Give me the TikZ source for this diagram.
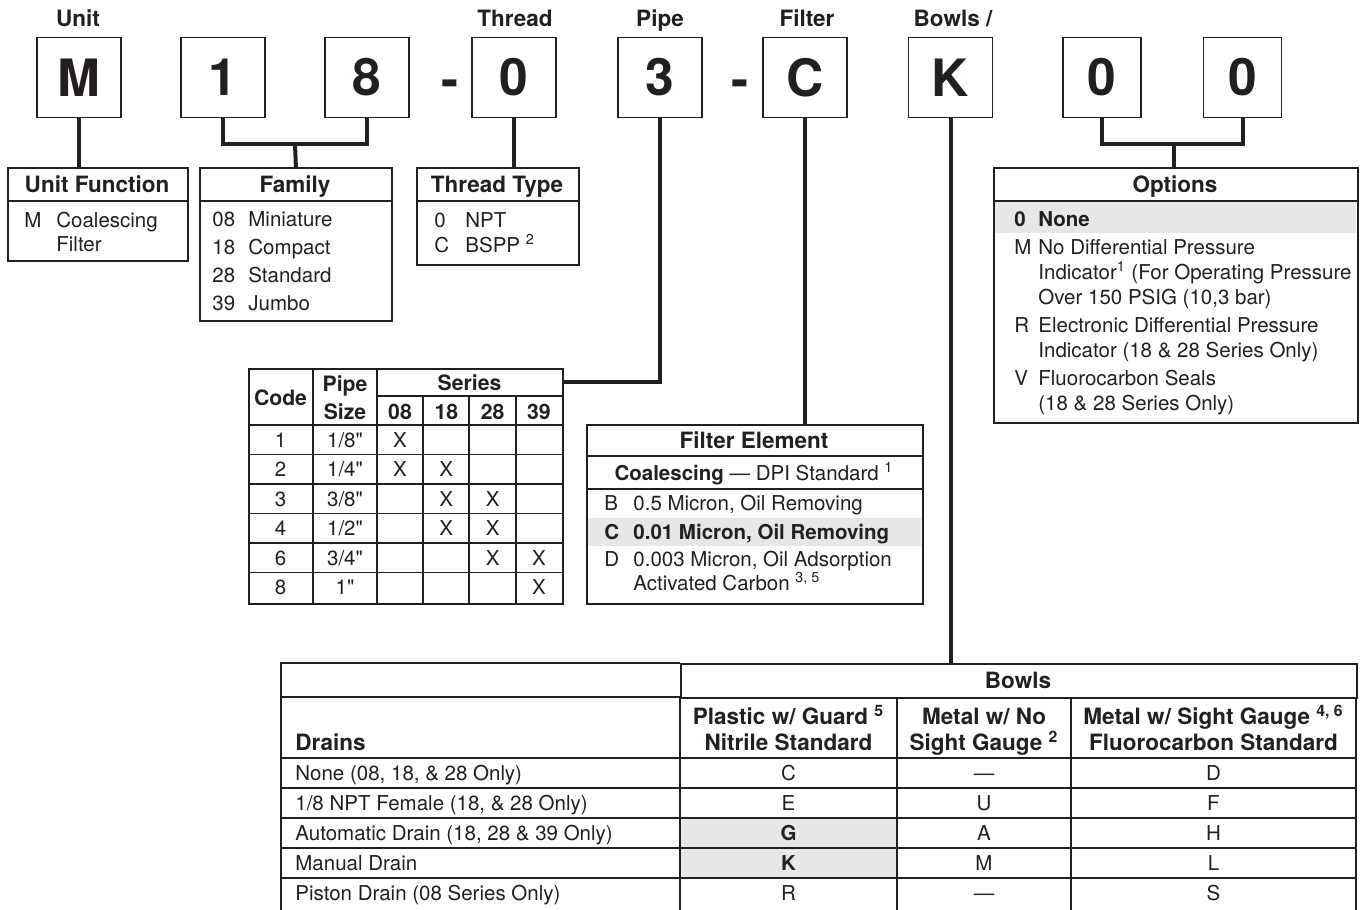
\documentclass[tikz,border=0pt]{standalone}
\usepackage{fontspec}
\setmainfont{TeX Gyre Heros}
\usetikzlibrary{positioning}

\definecolor{ink}{HTML}{231F20}
\definecolor{rowgrey}{HTML}{E6E7E8}

\newcommand{\bodytxt}{\fontsize{10.25}{12}\selectfont}
\newcommand{\headtxt}{\fontsize{11.25}{13}\selectfont\bfseries}
\newcommand{\tabtxt}{\fontsize{10.6}{12}\selectfont\bfseries}
\newcommand{\bigtxt}{\fontsize{25.75}{28}\selectfont\bfseries}

\tikzset{
  codebox/.style={draw, line width=0.85pt, minimum width=42pt, minimum height=40pt, inner sep=0pt, font=\bigtxt},
  infobox/.style={draw, line width=0.9pt, anchor=north west, inner sep=0pt},
  stem/.style={line width=2pt},
  gridline/.style={line width=0.75pt},
  frameline/.style={line width=0.9pt},
  lefttext/.style={anchor=base west, inner sep=0pt, font=\bodytxt},
  midtext/.style={anchor=base, inner sep=0pt, font=\bodytxt},
  headtext/.style={anchor=base, inner sep=0pt, font=\headtxt},
  tabhead/.style={anchor=base, inner sep=0pt, font=\tabtxt},
}

\begin{document}
\begin{tikzpicture}[x=0.5pt, y=-0.5pt, color=ink]
\useasboundingbox (0,0) rectangle (1361,910);


\node[headtext] (lunit) at (78,26) {Unit};
\node[headtext] (lthread) at (515,26) {Thread};
\node[headtext] (lpipe) at (660,26) {Pipe};
\node[headtext] (lfilter) at (807,26) {Filter};
\node[headtext] (lbowls) at (953,26) {Bowls /};

\node[codebox] (bm) at (79,77.5) {M};
\node[codebox] (b1) at (223,77.5) {1};
\node[codebox] (b8) at (367,77.5) {8};
\node[anchor=base, inner sep=0pt, font=\bigtxt] (dash1) at (450,97) {-};
\node[codebox] (bt) at (514,77.5) {0};
\node[codebox] (bp) at (660,77.5) {3};
\node[anchor=base, inner sep=0pt, font=\bigtxt] (dash2) at (740,97) {-};
\node[codebox] (bf) at (805,77.5) {C};
\node[codebox] (bk) at (950.5,77.5) {K};
\node[codebox, minimum width=39pt] (bo1) at (1102,77.5) {0};
\node[codebox, minimum width=39pt] (bo2) at (1242.5,77.5) {0};


\node[infobox, minimum width=90pt, minimum height=46.5pt] (unitfn) at (7,167) {};
\draw[gridline] (7,201) -- ++(180,0);
\node[headtext] (unitfnhd) at (97,192) {Unit Function};
\node[lefttext] (ufm) at (24,227) {M};
\node[lefttext] (ufco) at (56,227) {Coalescing};
\node[lefttext] (uffi) at (56,251) {Filter};

\node[infobox, minimum width=96pt, minimum height=76.5pt] (family) at (199,167) {};
\draw[gridline] (199,201) -- ++(192,0);
\node[headtext] (familyhd) at (295,192) {Family};
\foreach \code/\name [count=\i from 0] in {08/Miniature,18/Compact,28/Standard,39/Jumbo}{
  \node[lefttext] (famc\i) at (212,226.5+28*\i) {\code};
  \node[lefttext] (famn\i) at (248,226.5+28*\i) {\name};
}

\node[infobox, minimum width=81pt, minimum height=48.5pt] (thread) at (416,167) {};
\draw[gridline] (416,201) -- ++(162,0);
\node[headtext] (threadhd) at (497,192) {Thread Type};
\node[lefttext] (thc0) at (434,227) {0};
\node[lefttext] (thn0) at (465,227) {NPT};
\node[lefttext] (thc1) at (434,252) {C};
\node[lefttext] (thn1) at (465,252) {BSPP \textsuperscript{2}};

\fill[rowgrey] (994,202) rectangle (1356,233);
\node[infobox, minimum width=182pt, minimum height=127.5pt] (options) at (993,167) {};
\draw[gridline] (993,201) -- ++(364,0);
\node[headtext] (optionshd) at (1175,192) {Options};
\node[lefttext, font=\bodytxt\bfseries] (opc0) at (1014,226) {0};
\node[lefttext, font=\bodytxt\bfseries] (opn0) at (1038,226) {None};
\node[lefttext] (opc1) at (1014,254) {M};
\node[lefttext] (opn1a) at (1038,254) {No Differential Pressure};
\node[lefttext] (opn1b) at (1038,279) {Indicator\textsuperscript{1} (For Operating Pressure};
\node[lefttext] (opn1c) at (1038,304) {Over 150 PSIG (10,3 bar)};
\node[lefttext] (opc2) at (1014,332) {R};
\node[lefttext] (opn2a) at (1038,332) {Electronic Differential Pressure};
\node[lefttext] (opn2b) at (1038,357) {Indicator (18 \& 28 Series Only)};
\node[lefttext] (opc3) at (1014,385) {V};
\node[lefttext] (opn3a) at (1038,385) {Fluorocarbon Seals};
\node[lefttext] (opn3b) at (1038,410) {(18 \& 28 Series Only)};


\node[infobox, minimum width=157pt, minimum height=117.5pt] (pipetab) at (248,368) {};
\foreach \x in {313,377} \draw[gridline] (\x,368) -- (\x,603);
\foreach \x in {423,469,516} \draw[gridline] (\x,396) -- (\x,603);
\draw[gridline] (377,396) -- (562,396);
\foreach \y in {425,454.5,484,513.5,543,572.5} \draw[gridline] (248,\y) -- (562,\y);
\node[tabhead] (pcodehd) at (280.5,405) {Code};
\node[tabhead] (ppipehd) at (345,391) {Pipe};
\node[tabhead] (psizehd) at (345,419) {Size};
\node[tabhead] (pserhd) at (469.5,390) {Series};
\foreach \s [count=\c from 0] in {08,18,28,39}
  \node[tabhead] (pser\c) at (400+46.33*\c,419) {\s};
\foreach \code/\size [count=\r from 0] in {1/{1/8\textquotedbl},2/{1/4\textquotedbl},3/{3/8\textquotedbl},4/{1/2\textquotedbl},6/{3/4\textquotedbl},8/{1\textquotedbl}}{
  \node[midtext] (pcd\r) at (280.5,447.2+29.5*\r) {\code};
  \node[midtext] (psz\r) at (345,447.2+29.5*\r) {\size};
}
\foreach \r/\c in {0/0,1/0,1/1,2/1,2/2,3/1,3/2,4/2,4/3,5/3}
  \node[midtext] (px\r\c) at (400+46.33*\c,447.2+29.5*\r) {X};


\fill[rowgrey] (587,518) rectangle (921,546);
\node[infobox, minimum width=168pt, minimum height=89.5pt] (filter) at (586,424) {};
\draw[gridline] (586,456) -- ++(336,0);
\draw[gridline] (586,489) -- ++(336,0);
\node[headtext] (filterhd) at (754,448) {Filter Element};
\node[midtext] (filtstd) at (754,480) {\textbf{Coalescing} — DPI Standard \textsuperscript{1}};
\node[lefttext] (fic0) at (604,510) {B};
\node[lefttext] (fin0) at (633,510) {0.5 Micron, Oil Removing};
\node[lefttext, font=\bodytxt\bfseries] (fic1) at (604,539) {C};
\node[lefttext, font=\bodytxt\bfseries] (fin1) at (633,539) {0.01 Micron, Oil Removing};
\node[lefttext] (fic2) at (604,566) {D};
\node[lefttext] (fin2a) at (633,566) {0.003 Micron, Oil Adsorption};
\node[lefttext] (fin2b) at (633,590) {Activated Carbon \textsuperscript{3, 5}};


\fill[rowgrey] (681,818) rectangle (896,878);
\node[infobox, minimum width=338pt, minimum height=17pt] (bowlhd) at (680,663) {};
\draw[frameline] (281,910) -- (281,663) -- (680,663);
\draw[frameline] (1356,697) -- (1356,910);
\draw[gridline] (680,697) -- (680,910);
\draw[gridline] (281,697) -- (680,697);
\foreach \x in {897,1071} \draw[gridline] (\x,697) -- (\x,910);
\foreach \y in {758,788,818,848,878} \draw[gridline] (281,\y) -- (1356,\y);
\node[headtext] (bowlstxt) at (1018,688) {Bowls};
\node[headtext, anchor=base west] (drainshd) at (295,750) {Drains};
\node[headtext] (plas1) at (788.5,724) {Plastic w/ Guard \textsuperscript{5}};
\node[headtext] (plas2) at (788.5,750) {Nitrile Standard};
\node[headtext] (met1) at (984,724) {Metal w/ No};
\node[headtext] (met2) at (984,750) {Sight Gauge \textsuperscript{2}};
\node[headtext] (sig1) at (1213.5,724) {Metal w/ Sight Gauge \textsuperscript{4, 6}};
\node[headtext] (sig2) at (1213.5,750) {Fluorocarbon Standard};
\node[lefttext] (dr0) at (295,780.5) {None (08, 18, \& 28 Only)};
\node[lefttext] (dr1) at (295,810.5) {1/8 NPT Female (18, \& 28 Only)};
\node[lefttext] (dr2) at (295,840.5) {Automatic Drain (18, 28 \& 39 Only)};
\node[lefttext] (dr3) at (295,870.5) {Manual Drain};
\node[lefttext] (dr4) at (295,900.5) {Piston Drain (08 Series Only)};
\foreach \pl/\me/\si [count=\r from 0] in {C/—/D,E/U/F,\textbf{G}/A/H,\textbf{K}/M/L,R/—/S}{
  \node[midtext] (pl\r) at (788.5,780.5+30*\r) {\pl};
  \node[midtext] (me\r) at (984,780.5+30*\r) {\me};
  \node[midtext] (si\r) at (1213.5,780.5+30*\r) {\si};
}


\draw[stem] (bm.south) -- (bm.south |- unitfn.north);
\coordinate (famjoin) at (295,144);
\draw[stem] (b1.south) |- (famjoin) -| (b8.south);
\draw[stem] (famjoin) -- (family.north);
\draw[stem] (bt.south) -- (bt.south |- thread.north);
\draw[stem] (bp.south) |- ([yshift=-7pt]pipetab.north east);
\draw[stem] (bf.south) -- (bf.south |- filter.north);
\draw[stem] (bk.south) -- (bk.south |- bowlhd.north);
\coordinate (optjoin) at (1174,144);
\draw[stem] (bo1.south) |- (optjoin) -| (bo2.south);
\draw[stem] (optjoin) -- (optjoin |- options.north);


\end{tikzpicture}
\end{document}
